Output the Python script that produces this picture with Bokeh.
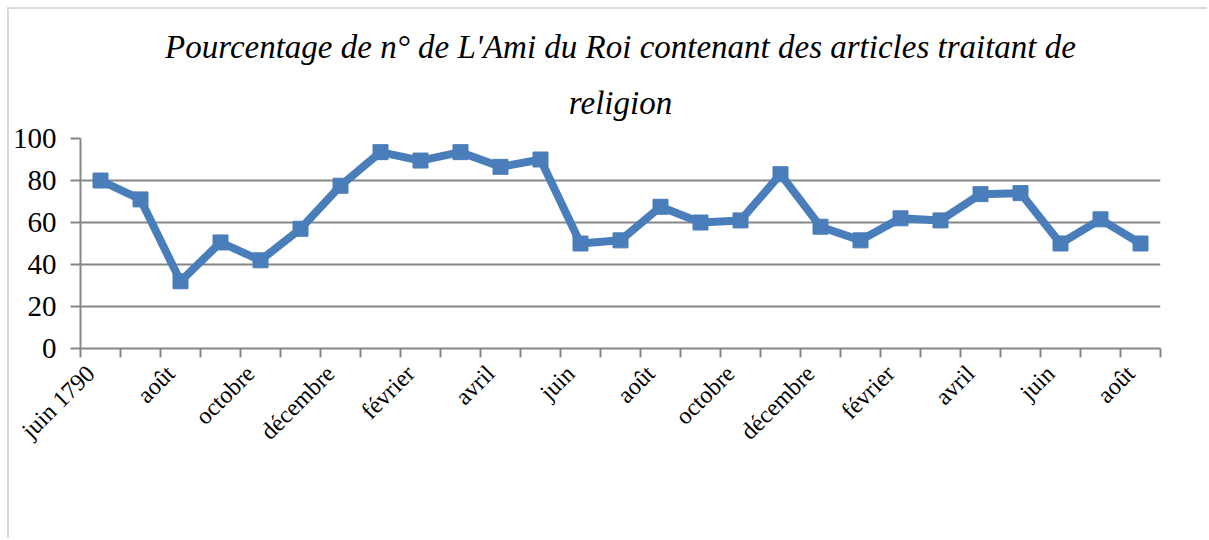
from bokeh.plotting import figure
from bokeh.models import FixedTicker, Title, Range1d
from bokeh.embed import file_html
from bokeh.resources import INLINE
import math

months = ["juin 1790", "juillet", "août", "septembre", "octobre", "novembre",
          "décembre", "janvier", "février", "mars", "avril", "mai",
          "juin", "juillet", "août", "septembre", "octobre", "novembre",
          "décembre", "janvier", "février", "mars", "avril", "mai",
          "juin", "juillet", "août"]
values = [80, 71, 32, 50.5, 42, 57, 77.5, 93.5, 89.5, 93.5, 86.5, 90,
          50, 51.5, 67.5, 60, 61, 83, 58, 51.5, 62, 61, 73.5, 74,
          50, 61.5, 50]
y_ticks = [0, 20, 40, 60, 80, 100]
title_line1 = "Pourcentage de n° de L'Ami du Roi contenant des articles traitant de"
title_line2 = "religion"

xs = list(range(len(values)))
serif = "Liberation Serif"
gray = "#868686"
blue = "#4a7ebb"

p = figure(width=1200, height=531, output_backend="svg", toolbar_location=None,
           x_range=Range1d(-0.5, len(values) - 0.5), y_range=Range1d(0, 100),
           min_border_left=63, min_border_right=49, min_border_top=129,
           min_border_bottom=192)
p.styles = {"margin-left": "9px", "margin-top": "9px",
            "box-shadow": "-2px -2px 0 0 #d9d9d9"}
p.outline_line_color = None
p.background_fill_color = "white"
p.border_fill_color = "white"

p.add_layout(Title(text=title_line2, align="center", text_font=serif,
                   text_font_style="italic", text_font_size="33px",
                   text_color="black", standoff=36), "above")
p.add_layout(Title(text=title_line1, align="center", text_font=serif,
                   text_font_style="italic", text_font_size="33px",
                   text_color="black", standoff=0), "above")

# y axis
p.yaxis.ticker = FixedTicker(ticks=y_ticks)
p.yaxis.axis_line_color = gray
p.yaxis.axis_line_width = 2
p.yaxis.major_tick_line_color = gray
p.yaxis.major_tick_line_width = 2
p.yaxis.major_tick_out = 10
p.yaxis.major_tick_in = 0
p.yaxis.minor_tick_line_color = None
p.yaxis.major_label_text_font = serif
p.yaxis.major_label_text_font_size = "29px"
p.yaxis.major_label_text_color = "black"
p.yaxis.major_label_standoff = 14

# x axis
label_ticks = [i - 0.25 for i in xs[::2]]
p.xaxis.ticker = FixedTicker(ticks=label_ticks,
                             minor_ticks=[i - 0.5 for i in range(len(values) + 1)])
p.xaxis.major_label_overrides = {t: months[i] for t, i in zip(label_ticks, xs[::2])}
p.xaxis.major_label_orientation = math.pi / 4
p.xaxis.axis_line_color = gray
p.xaxis.axis_line_width = 2
p.xaxis.major_tick_line_color = None
p.xaxis.major_tick_out = 0
p.xaxis.major_tick_in = 0
p.xaxis.minor_tick_line_color = gray
p.xaxis.minor_tick_line_width = 2
p.xaxis.minor_tick_out = 9
p.xaxis.minor_tick_in = 0
p.xaxis.major_label_text_font = serif
p.xaxis.major_label_text_font_size = "24px"
p.xaxis.major_label_text_color = "black"
p.xaxis.major_label_standoff = 12

p.xgrid.grid_line_color = None
p.ygrid.ticker = FixedTicker(ticks=y_ticks)
p.ygrid.grid_line_color = gray
p.ygrid.grid_line_width = 2

p.line(xs, values, line_color=blue, line_width=8)
p.scatter(xs, values, marker="square", size=15, fill_color=blue, line_color=blue)

open("out.html", "w").write(file_html(p, INLINE))
